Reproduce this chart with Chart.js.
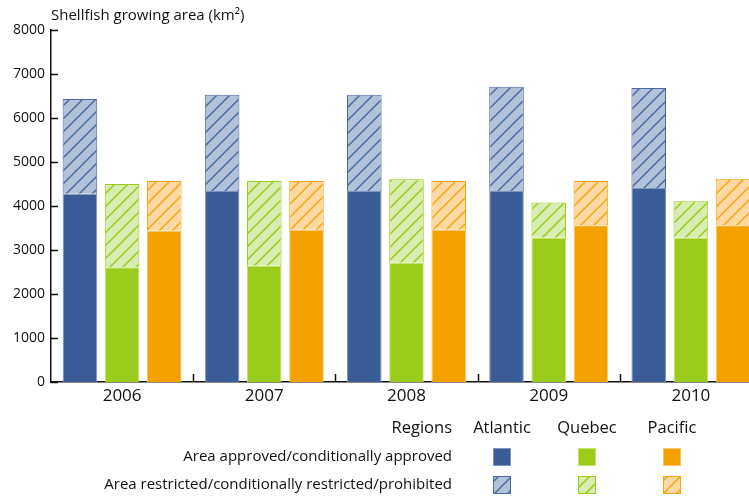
<!DOCTYPE html>
<html>
<head>
<meta charset="utf-8">
<script src="https://cdn.jsdelivr.net/npm/chart.js@4.4.0/dist/chart.umd.min.js"></script>
<style>
html, body { margin: 0; padding: 0; background: #fff; overflow: hidden; }
</style>
</head>
<body>
<canvas id="myChart" width="762" height="498"></canvas>
<script>
// data (km2)
var years = ['2006', '2007', '2008', '2009', '2010']
var regions = ['Atlantic', 'Quebec', 'Pacific']
var atlanticApproved = [4280, 4340, 4340, 4340, 4410]
var atlanticRestricted = [2150, 2190, 2190, 2370, 2270]
var quebecApproved = [2610, 2640, 2710, 3280, 3280]
var quebecRestricted = [1890, 1930, 1900, 800, 830]
var pacificApproved = [3440, 3460, 3460, 3560, 3560]
var pacificRestricted = [1130, 1110, 1110, 1010, 1060]
var yTicks = [0, 1000, 2000, 3000, 4000, 5000, 6000, 7000, 8000]
var yTitle = 'Shellfish growing area (km\u00b2)'
var legendHeader = 'Regions'
var legendRows = ['Area approved/conditionally approved', 'Area restricted/conditionally restricted/prohibited']

var FONT = "'Open Sans', sans-serif"
var INK = '#111'

// colours: solid, solid edge, hatch background, hatch line
var colors = {
	Atlantic: ['#3a5d98', '#7d95c0', '#b3c1d9', '#4a6aa3'],
	Quebec: ['#9bcc1b', '#c3e272', '#d8edb1', '#9bcc1b'],
	Pacific: ['#f4a100', '#f9c866', '#fcd9a2', '#f5a612']
}

//hatch pattern
function hatch(bg, fg) {
	var s = 13
	var c = document.createElement('canvas')
	c.width = s
	c.height = s
	var g = c.getContext('2d')
	g.fillStyle = bg
	g.fillRect(0, 0, s, s)
	g.strokeStyle = fg
	g.lineWidth = 1.5
	g.beginPath()
	g.moveTo(-2, s + 2); g.lineTo(s + 2, -2)
	g.moveTo(-2, 2); g.lineTo(2, -2)
	g.moveTo(s - 2, s + 2); g.lineTo(s + 2, s - 2)
	g.stroke()
	return g.createPattern(c, 'repeat')
}

var approved = [atlanticApproved, quebecApproved, pacificApproved]
var restricted = [atlanticRestricted, quebecRestricted, pacificRestricted]
var datasets = []
regions.forEach(function (r, i) {
	datasets.push({
		label: r + ' approved',
		data: approved[i],
		stack: r,
		backgroundColor: colors[r][0],
		borderColor: colors[r][1],
		borderWidth: 1
	})
})
regions.forEach(function (r, i) {
	datasets.push({
		label: r + ' restricted',
		data: restricted[i],
		stack: r,
		backgroundColor: hatch(colors[r][2], colors[r][3]),
		borderColor: colors[r][3],
		borderWidth: 1
	})
})

//ticks, title and legend
var decor = {
	id: 'decor',
	afterDraw: function (chart) {
		var ctx = chart.ctx
		var x = chart.scales.x
		var y = chart.scales.y
		var a = chart.chartArea
		ctx.save()
		ctx.strokeStyle = INK
		ctx.lineWidth = 1.5
		ctx.beginPath()
		yTicks.forEach(function (v) {
			var py = Math.round(y.getPixelForValue(v)) + 0.5
			ctx.moveTo(a.left, py)
			ctx.lineTo(a.left + 7, py)
		})
		for (let i = 1; i < years.length; i++) {
			var px = Math.round((x.getPixelForValue(i - 1) + x.getPixelForValue(i)) / 2) + 0.5
			ctx.moveTo(px, a.bottom)
			ctx.lineTo(px, a.bottom - 8)
		}
		ctx.stroke()

		ctx.fillStyle = INK
		ctx.textBaseline = 'middle'
		ctx.font = '15px ' + FONT
		ctx.textAlign = 'left'
		ctx.fillText(yTitle, a.left, 16)

		// legend table
		var cols = [502, 587, 672]
		ctx.font = '16.5px ' + FONT
		ctx.textAlign = 'right'
		ctx.fillText(legendHeader, 452, 428)
		ctx.font = '15px ' + FONT
		ctx.fillText(legendRows[0], 452, 457)
		ctx.fillText(legendRows[1], 452, 485)
		ctx.textAlign = 'center'
		ctx.font = '16.5px ' + FONT
		regions.forEach(function (r, i) {
			ctx.fillStyle = INK
			ctx.fillText(r, cols[i], 428)
			var solid = chart.data.datasets[i]
			var hat = chart.data.datasets[i + regions.length]
			ctx.lineWidth = 1
			ctx.fillStyle = solid.backgroundColor
			ctx.fillRect(cols[i] - 9, 448, 18, 18)
			ctx.strokeStyle = solid.borderColor
			ctx.strokeRect(cols[i] - 8.5, 448.5, 17, 17)
			ctx.fillStyle = hat.backgroundColor
			ctx.fillRect(cols[i] - 9, 476, 18, 18)
			ctx.strokeStyle = hat.borderColor
			ctx.strokeRect(cols[i] - 8.5, 476.5, 17, 17)
		})
		ctx.restore()
	}
}

var myChart = new Chart(document.getElementById('myChart'), {
	type: 'bar',
	data: { labels: years, datasets: datasets },
	options: {
		responsive: false,
		animation: false,
		categoryPercentage: 0.89,
		barPercentage: 0.82,
		layout: { padding: { top: 30, left: 0, right: 0, bottom: 0 } },
		plugins: { legend: { display: false }, tooltip: { enabled: false } },
		scales: {
			x: {
				stacked: true,
				grid: { display: false, drawTicks: false },
				border: { display: true, color: INK, width: 1.5 },
				ticks: { color: INK, font: { family: FONT, size: 17 }, padding: 4 },
				afterFit: function (s) { s.height = 116 }
			},
			y: {
				stacked: true,
				min: 0,
				max: 8000,
				grid: { display: false, drawTicks: false },
				border: { display: true, color: INK, width: 1.5 },
				ticks: {
					color: INK,
					font: { family: FONT, size: 14 },
					padding: 6,
					callback: function (v) { return String(v) }
				},
				afterBuildTicks: function (s) { s.ticks = yTicks.map(function (v) { return { value: v } }) },
				afterFit: function (s) { s.width = 51 }
			}
		}
	},
	plugins: [decor]
})
</script>
</body>
</html>
